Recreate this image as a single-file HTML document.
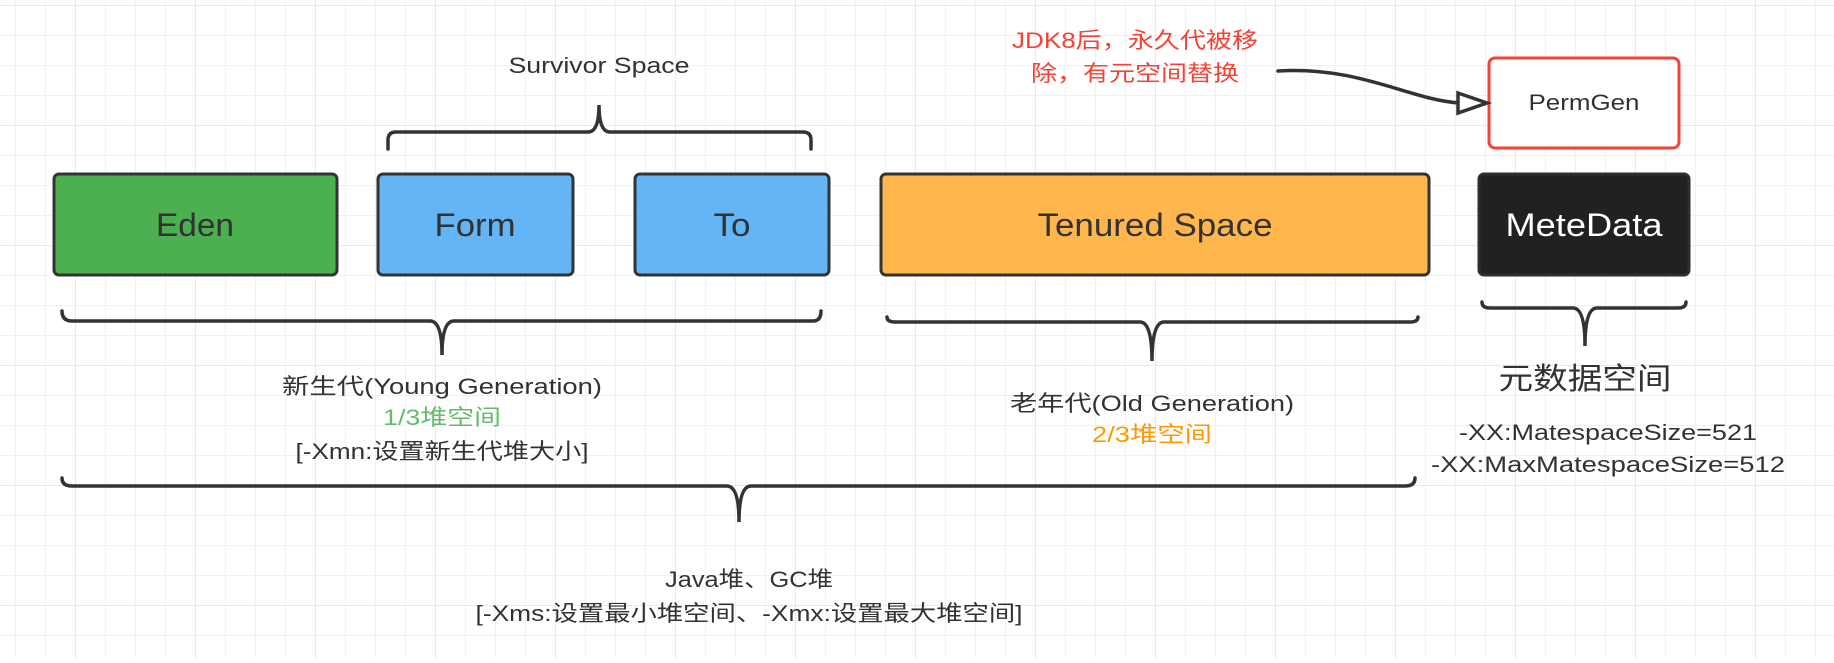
<!DOCTYPE html>
<html><head><meta charset="utf-8"><style>
html,body{margin:0;padding:0;background:#fff;}
svg text{font-family:"Liberation Sans","Noto Sans CJK SC",sans-serif;}
</style></head><body>
<svg width="1834" height="658" viewBox="0 0 1834 658" xmlns="http://www.w3.org/2000/svg">
<defs>
<pattern id="g" x="15" y="5" width="30" height="30" patternUnits="userSpaceOnUse">
<path d="M0 0V30M0 0H30" stroke="#f1f1f1" stroke-width="2" fill="none"/>
</pattern>
<pattern id="G" x="75" y="5" width="120" height="120" patternUnits="userSpaceOnUse">
<path d="M0 0V120M0 0H120" stroke="#e9e9e9" stroke-width="2" fill="none"/>
</pattern>
</defs>
<rect width="1834" height="658" fill="url(#g)"/>
<rect width="1834" height="658" fill="url(#G)"/>

<g stroke="#333" stroke-width="3">
<rect x="54" y="174" width="283" height="101" rx="5" fill="#4caf50"/>
<rect x="378" y="174" width="195" height="101" rx="5" fill="#64b5f6"/>
<rect x="635" y="174" width="194" height="101" rx="5" fill="#64b5f6"/>
<rect x="881" y="174" width="548" height="101" rx="5" fill="#ffb74d"/>
<rect x="1479" y="174" width="210" height="101" rx="5" fill="#212121" stroke="#2e2e2e"/>
</g>
<rect x="1489" y="58" width="190" height="90" rx="6" fill="#fff" stroke="#f44336" stroke-width="3"/>

<g fill="#323232" font-size="32" text-anchor="middle" lengthAdjust="spacingAndGlyphs">
<text x="195" y="236" textLength="78" lengthAdjust="spacingAndGlyphs">Eden</text>
<text x="475" y="236" textLength="81" lengthAdjust="spacingAndGlyphs">Form</text>
<text x="732" y="236" textLength="37" lengthAdjust="spacingAndGlyphs">To</text>
<text x="1155" y="236" textLength="235" lengthAdjust="spacingAndGlyphs">Tenured Space</text>
<text x="1584" y="236" fill="#fff" textLength="157" lengthAdjust="spacingAndGlyphs">MeteData</text>
</g>
<text x="1584" y="110" font-size="22" text-anchor="middle" fill="#323232" textLength="111" lengthAdjust="spacingAndGlyphs">PermGen</text>

<g fill="none" stroke="#333" stroke-width="3.5" stroke-linecap="round">
<path d="M388 149 V140 Q388 132 396 132 H588 Q599 132 599 105 Q599 132 610 132 H803 Q811 132 811 140 V149"/>
<path d="M62 311 Q62 321 72 321 H430 Q442 321 442 355 Q442 321 454 321 H813 Q821 321 821 311"/>
<path d="M887 317 Q887 322 895 322 H1140 Q1152 322 1152 361 Q1152 322 1164 322 H1410 Q1418 322 1418 317"/>
<path d="M1482 302 Q1482 308 1490 308 H1573 Q1585 308 1585 346 Q1585 308 1597 308 H1678 Q1686 308 1686 302"/>
<path d="M62 478 Q62 486 72 486 H727 Q739 486 739 522 Q739 486 751 486 H1405 Q1415 486 1415 478"/>
<path d="M1278 71 C1360 66 1410 100 1460 103"/>
<path d="M1458 93 L1487 103 L1458 113 Z" fill="#fff"/>
</g>

<g font-size="22" text-anchor="middle" fill="#323232">
<text x="599" y="73" textLength="181" lengthAdjust="spacingAndGlyphs">Survivor Space</text>
<text x="1135" y="48" fill="#f44336" textLength="246" lengthAdjust="spacingAndGlyphs">JDK8后，永久代被移</text>
<text x="1135" y="81" fill="#f44336" textLength="208" lengthAdjust="spacingAndGlyphs">除，有元空间替换</text>
<text x="442" y="394" textLength="320" lengthAdjust="spacingAndGlyphs">新生代(Young Generation)</text>
<text x="442" y="425" fill="#66bb6a" textLength="118" lengthAdjust="spacingAndGlyphs">1/3堆空间</text>
<text x="442" y="459" textLength="293" lengthAdjust="spacingAndGlyphs">[-Xmn:设置新生代堆大小]</text>
<text x="1152" y="411" textLength="284" lengthAdjust="spacingAndGlyphs">老年代(Old Generation)</text>
<text x="1152" y="442" fill="#ff9800" textLength="120" lengthAdjust="spacingAndGlyphs">2/3堆空间</text>
<text x="1585" y="389" font-size="30" textLength="173" lengthAdjust="spacingAndGlyphs">元数据空间</text>
<text x="1608" y="440" textLength="298" lengthAdjust="spacingAndGlyphs">-XX:MatespaceSize=521</text>
<text x="1608" y="472" textLength="354" lengthAdjust="spacingAndGlyphs">-XX:MaxMatespaceSize=512</text>
<text x="749" y="587" textLength="168" lengthAdjust="spacingAndGlyphs">Java堆、GC堆</text>
<text x="749" y="621" textLength="547" lengthAdjust="spacingAndGlyphs">[-Xms:设置最小堆空间、-Xmx:设置最大堆空间]</text>
</g>
</svg>
</body></html>
